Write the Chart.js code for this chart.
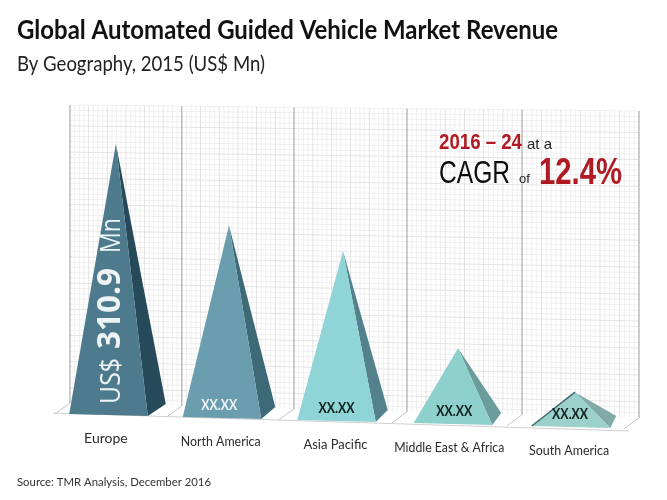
<!DOCTYPE html>
<html>
<head>
<meta charset="utf-8">
<title>Global Automated Guided Vehicle Market Revenue</title>
<script src="https://cdn.jsdelivr.net/npm/chart.js@4"></script>
<style>
    body { margin: 0; background: #fff; }
    canvas { display: block; filter: blur(0.45px); }
</style>
</head>
<body>
<canvas id="myChart" width="667" height="500"></canvas>
<script>
// values (only Europe is printed, the rest come from pyramid height)
var regions = ["Europe", "North America", "Asia Pacific", "Middle East & Africa", "South America"];
var revenue = [310.9, 220.6, 195, 87, 40];
var valueLabels = ["US$ 310.9 Mn", "XX.XX", "XX.XX", "XX.XX", "XX.XX"];

// colours
var frontColors = ["#4d7b8d", "#6a9dae", "#8fd5d7", "#8dd0cc", "#9cd0cc"];
var sideColors = ["#274a5a", "#3e6a78", "#54828c", "#6b9b9b", "#82aaa8"];
var textColors = ["#eef3f4", "#eef3f4", "#10201f", "#10201f", "#10201f"];

// the floor runs slightly downhill and the panels are not evenly spaced
var floorSlope = 0.026;
var wallShift = [0, -2, -3.6, -4.4, -3.2, 0];
var baseShift = [-18.4, -18.7, -18, -15.3, -11.1];
var apexShift = [-11, -11.7, -11.5, -10.3, -7.1];
var sideDepth = [18, 14, 12, 9, 6];
var labelShift = [-20, -19, -18, -18, -12];
var valueShift = [0, -21.5, -18, -14, -12];
var labelWidths = [46, 80, 64, 110, 80];

function tilt(x, chart) {
    return (x - chart.chartArea.left) * floorSlope;
}

function wallX(i, chart) {
    var area = chart.chartArea;
    return area.left + i * area.width / regions.length + wallShift[i];
}

function text(ctx, str, x, y, font, color, maxWidth) {
    ctx.font = font;
    ctx.fillStyle = color;
    if (maxWidth) {
        ctx.fillText(str, x, y, maxWidth);
    } else {
        ctx.fillText(str, x, y);
    }
}

// walls, lattice and floor behind the pyramids
function drawRoom(chart) {
    var ctx = chart.ctx;
    var yScale = chart.scales.y;
    var area = chart.chartArea;
    var backOffset = 11;
    var i, j;

    // horizontal lattice, flatter towards the top of the wall
    ctx.save();
    ctx.lineWidth = 0.7;
    yScale.ticks.forEach(function (t, n) {
        var py = yScale.getPixelForValue(t.value);
        if (py > area.bottom - backOffset) {
            return;
        }
        var slope = floorSlope - (t.value / yScale.max) * 0.0155;
        ctx.strokeStyle = n % 5 == 0 ? "#d8d8d8" : "#e9e9e9";
        ctx.beginPath();
        ctx.moveTo(area.left, py);
        ctx.lineTo(area.right, py + area.width * slope);
        ctx.stroke();
    });

    // vertical lattice
    for (i = 0; i < regions.length; i++) {
        var x0 = wallX(i, chart);
        var x1 = wallX(i + 1, chart);
        for (j = 1; j < 24; j++) {
            var x = x0 + (x1 - x0) * j / 24;
            ctx.strokeStyle = j % 4 == 0 ? "#d8d8d8" : "#e9e9e9";
            ctx.beginPath();
            ctx.moveTo(x, area.top + (x - area.left) * 0.0105);
            ctx.lineTo(x, area.bottom - backOffset + tilt(x, chart));
            ctx.stroke();
        }
    }

    // walls and the floor strokes
    for (i = 0; i <= regions.length; i++) {
        var wx = wallX(i, chart);
        var wallBottom = area.bottom - backOffset + tilt(wx, chart);
        ctx.strokeStyle = "#9b9b9b";
        ctx.lineWidth = 1;
        ctx.beginPath();
        ctx.moveTo(wx, area.top + (wx - area.left) * 0.0105);
        ctx.lineTo(wx, wallBottom);
        ctx.stroke();

        ctx.strokeStyle = "#c4c4c4";
        ctx.beginPath();
        ctx.moveTo(wx, wallBottom);
        ctx.lineTo(wx - 15, wallBottom + 11);
        ctx.stroke();
    }
    ctx.strokeStyle = "#cfcfcf";
    ctx.lineWidth = 1.2;
    ctx.beginPath();
    ctx.moveTo(area.left - 17, area.bottom - 1);
    ctx.lineTo(area.right - 10, area.bottom + 17);
    ctx.stroke();
    ctx.restore();
}

function drawPyramid(chart, el, i) {
    var ctx = chart.ctx;
    var left = el.x + baseShift[i] - el.width / 2;
    var right = left + el.width;
    var apexX = el.x + apexShift[i];
    var apexY = el.y + tilt(apexX, chart);
    var leftY = el.base + tilt(left, chart);
    var rightY = el.base + tilt(right, chart);
    var backX = right + sideDepth[i];
    var backY = rightY - 12;

    ctx.beginPath();
    ctx.moveTo(apexX, apexY);
    ctx.lineTo(right, rightY);
    ctx.lineTo(backX, backY);
    ctx.closePath();
    ctx.fillStyle = sideColors[i];
    ctx.fill();

    ctx.beginPath();
    ctx.moveTo(apexX, apexY);
    ctx.lineTo(left, leftY);
    ctx.lineTo(right, rightY);
    ctx.closePath();
    ctx.fillStyle = el.options.backgroundColor;
    ctx.fill();

    // South America has a dark left edge in the picture
    if (i == regions.length - 1) {
        ctx.strokeStyle = "#3f6b6a";
        ctx.lineWidth = 1.5;
        ctx.beginPath();
        ctx.moveTo(left, leftY);
        ctx.lineTo(apexX, apexY);
        ctx.stroke();
    }
}

function drawEuropeLabel(ctx, x, y) {
    ctx.save();
    ctx.translate(x, y);
    ctx.rotate(-Math.PI / 2);
    ctx.textAlign = "left";
    ctx.textBaseline = "alphabetic";
    var color = textColors[0];
    var parts = valueLabels[0].split(" ");
    text(ctx, parts[0], 0, 0, "27px 'Open Sans'", color, 46);
    text(ctx, parts[1], 55, 0, "bold 32px 'Open Sans'", color, 81);
    text(ctx, parts[2], 151, 0, "27px 'Open Sans'", color, 35);
    ctx.restore();
}

var pyramidPlugin = {
    id: "pyramids",
    // Calibri is not installed, so title and subtitle get squeezed to the reference width
    afterLayout: function (chart) {
        chart.boxes.forEach(function (box) {
            if (box.options && box.options.text == titleText) {
                box.right = box.left + 541;
            } else if (box.options && box.options.text == subtitleText) {
                box.right = box.left + 248;
            }
        });
    },
    beforeDatasetsDraw: function (chart) {
        drawRoom(chart);
    },
    // the bars stay on the scales, they are only drawn in another shape
    beforeDatasetDraw: function (chart, args) {
        var elements = args.meta.data;
        elements.forEach(function (el, i) {
            drawPyramid(chart, el, i);
        });
        return false;
    },
    afterDatasetsDraw: function (chart) {
        var ctx = chart.ctx;
        var elements = chart.getDatasetMeta(0).data;
        var bottom = chart.chartArea.bottom;

        ctx.save();
        ctx.textBaseline = "alphabetic";
        elements.forEach(function (el, i) {
            var cx = el.x + labelShift[i];
            var floorY = bottom + tilt(cx, chart);
            ctx.textAlign = "center";
            text(ctx, regions[i], cx - 1, floorY + 28, "14px Lato", "#2b2b2b", labelWidths[i]);
            if (i > 0) {
                var vx = el.x + valueShift[i];
                text(ctx, valueLabels[i], vx, bottom + tilt(vx, chart) - 8, "bold 16px Lato", textColors[i], 36);
            }
        });
        drawEuropeLabel(ctx, 120, 404);

        // CAGR callout
        ctx.textAlign = "left";
        text(ctx, "2016 – 24", 439, 149, "bold 22px 'Liberation Sans'", "#b01a22", 83);
        text(ctx, "at a", 527, 149, "15px 'Liberation Sans'", "#222", 25);
        text(ctx, "CAGR", 439, 183, "31px 'Liberation Sans'", "#0c0c0c", 71);
        text(ctx, "of", 519, 183, "13px 'Liberation Sans'", "#222", 12);
        text(ctx, "12.4%", 539, 184, "bold 36px 'Liberation Sans'", "#b01a22", 83);

        text(ctx, "Source: TMR Analysis, December 2016", 17, 486, "12px Lato", "#333", 194);
        ctx.restore();
    }
};

var titleText = "Global Automated Guided Vehicle Market Revenue";
var subtitleText = "By Geography, 2015 (US$ Mn)";

var canvas = document.getElementById("myChart");
var myChart = new Chart(canvas.getContext("2d"), {
    type: "bar",
    data: {
        labels: regions,
        datasets: [{
            label: "Revenue (US$ Mn)",
            data: revenue,
            backgroundColor: frontColors,
            categoryPercentage: 0.69,
            barPercentage: 1
        }]
    },
    options: {
        responsive: false,
        animation: false,
        layout: { padding: { left: 17, right: 28, top: 14, bottom: 0 } },
        plugins: {
            legend: { display: false },
            tooltip: { enabled: false },
            title: {
                display: true,
                text: titleText,
                align: "start",
                color: "#111",
                font: { family: "Lato", size: 27, weight: "bold", lineHeight: 1.2 },
                padding: { top: 0, bottom: 0 }
            },
            subtitle: {
                display: true,
                text: subtitleText,
                align: "start",
                color: "#222",
                font: { family: "Lato", size: 22, weight: "normal", lineHeight: 1.2 },
                padding: { top: 4, bottom: 28.2 }
            }
        },
        scales: {
            x: {
                grid: { display: false },
                border: { display: false },
                ticks: { display: false },
                afterFit: function (scale) { scale.height = 86; }
            },
            y: {
                min: 0,
                max: 354,
                grid: { display: false },
                border: { display: false },
                ticks: { display: false, stepSize: 6, autoSkip: false },
                afterFit: function (scale) { scale.width = 53; }
            }
        }
    },
    plugins: [pyramidPlugin]
});
</script>
</body>
</html>
